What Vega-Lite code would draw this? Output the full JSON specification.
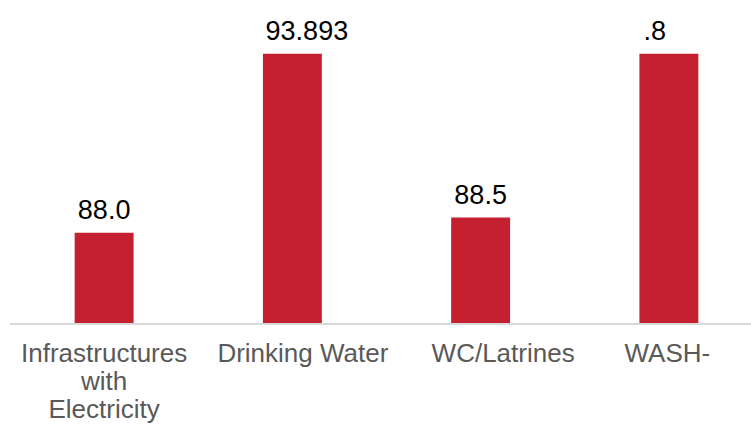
{
  "$schema": "https://vega.github.io/schema/vega-lite/v6.json",
  "autosize": {"type": "none"},
  "width": 741,
  "height": 304,
  "padding": {"left": 10, "top": 20, "right": 0, "bottom": 103},
  "background": "white",
  "config": {"view": {"stroke": null}, "font": "Liberation Sans"},
  "data": {"values": [
    {"category": "Infrastructures with Electricity", "value": 88.0, "label": "88.0"},
    {"category": "Drinking Water", "value": 93.893, "label": "93.893"},
    {"category": "WC/Latrines", "value": 88.5, "label": "88.5"},
    {"category": "WASH-", "value": 93.89, "label": ".8"}
  ]},
  "encoding": {
    "x": {
      "field": "category", "type": "nominal", "sort": null,
      "scale": {"range": [0, 753], "paddingInner": 0.687, "paddingOuter": 0.3435},
      "axis": {
        "title": null, "domain": false, "ticks": false, "labelAngle": 0,
        "labelFont": "Liberation Sans", "labelFontSize": 26, "labelColor": "#595959",
        "labelPadding": 16, "labelLimit": 300, "labelOverlap": false, "labelLineHeight": 28,
        "labelBaseline": "top",
        "labelOffset": {"expr": "datum.label == 'Drinking Water' ? 10.5 : datum.label == 'WC/Latrines' ? 22.5 : datum.label == 'WASH-' ? -1.5 : 0"},
        "labelExpr": "datum.label == 'Infrastructures with Electricity' ? ['Infrastructures', 'with', 'Electricity'] : datum.label"
      }
    },
    "y": {
      "field": "value", "type": "quantitative",
      "scale": {"domain": [85, 95], "zero": false, "nice": false},
      "axis": null
    }
  },
  "layer": [
    {"mark": {"type": "bar", "color": "#C52030"}, "encoding": {"y2": {"datum": 85}}},
    {
      "mark": {"type": "text", "font": "Liberation Sans", "fontSize": 27, "color": "#000000", "baseline": "alphabetic", "dy": -14,
        "dx": {"expr": "datum.label == '93.893' ? 14.5 : datum.label == '.8' ? -14 : 0"}},
      "encoding": {"text": {"field": "label"}}
    },
    {
      "mark": {"type": "rule", "color": "#D9D9D9", "strokeWidth": 2},
      "encoding": {"y": {"datum": 85}, "x": null}
    }
  ]
}
